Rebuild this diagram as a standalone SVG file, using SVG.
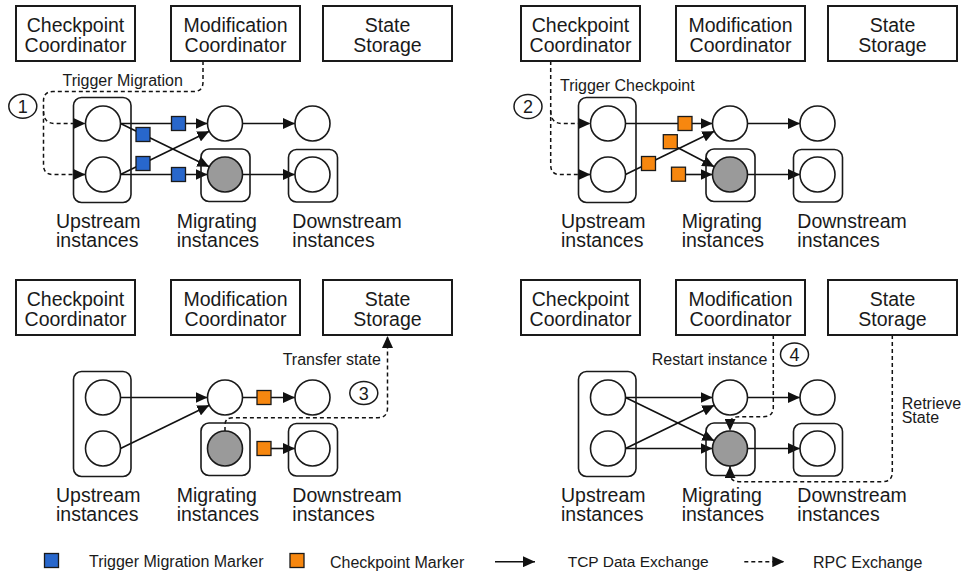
<svg xmlns="http://www.w3.org/2000/svg" width="961" height="573" viewBox="0 0 961 573">
<style>
.box{fill:#fff;stroke:#1a1a1a;stroke-width:2}
.grp{fill:none;stroke:#1a1a1a;stroke-width:1.6}
.node{fill:#fff;stroke:#1a1a1a;stroke-width:1.6}
.gray{fill:#9a9a9a;stroke:#1a1a1a;stroke-width:1.6}
.edge{fill:none;stroke:#111;stroke-width:1.6;marker-end:url(#arr)}
.rpc{fill:none;stroke:#111;stroke-width:1.5;stroke-dasharray:4 3;marker-end:url(#arr)}
.bm{fill:#2867cc;stroke:#1a1a1a;stroke-width:1.3}
.om{fill:#f7870f;stroke:#1a1a1a;stroke-width:1.3}
.num{fill:#fff;stroke:#1a1a1a;stroke-width:1.5}
text{font-family:"Liberation Sans",Arial,sans-serif;fill:#1a1a1a}
.t{font-size:19.5px;text-anchor:middle}
.lab{font-size:19.5px}
.s{font-size:16px}
.n{font-size:18px;text-anchor:middle}
</style>
<defs>
<marker id="arr" markerUnits="userSpaceOnUse" markerWidth="12" markerHeight="11" refX="12" refY="5.5" orient="auto"><path d="M0,0 L12,5.5 L0,11 z" fill="#111"/></marker>
</defs>

<!-- Panel 1 -->
<g id="panel1">
<g id="p1-connectors">
<path class="rpc" d="M203,61 V82 Q203,91.5 193.5,91.5 H53 Q43.5,91.5 43.5,101 V165 Q43.5,174.5 53,174.5 H85.5"/>
<path class="rpc" d="M43.5,111 Q43.5,123.5 55,123.5 H85.5"/>
<line class="edge" x1="120.5" y1="123.5" x2="207.5" y2="123.5"/>
<line class="edge" x1="120.5" y1="174.5" x2="207.5" y2="174.5"/>
<line class="edge" x1="120.5" y1="123.5" x2="209.3" y2="166.8"/>
<line class="edge" x1="120.5" y1="174.5" x2="209.3" y2="131.2"/>
<line class="edge" x1="242.5" y1="123.5" x2="295" y2="123.5"/>
<line class="edge" x1="242.5" y1="174.5" x2="295" y2="174.5"/>
<rect class="bm" x="171.5" y="116.5" width="14" height="14"/>
<rect class="bm" x="136" y="127.5" width="14" height="14"/>
<rect class="bm" x="136" y="156.5" width="14" height="14"/>
<rect class="bm" x="171.5" y="167.5" width="14" height="14"/>
<text class="s" x="62.5" y="85.5">Trigger Migration</text>
<ellipse class="num" cx="22.8" cy="106.3" rx="14" ry="12"/><text class="n" x="22.8" y="112.8">1</text>
</g>
<g id="p1-checkpoint-coordinator"><rect class="box" x="16" y="6" width="119" height="55"/><text class="t"><tspan x="75.5" y="32">Checkpoint</tspan><tspan x="75.5" y="51.5">Coordinator</tspan></text></g>
<g id="p1-modification-coordinator"><rect class="box" x="171" y="6" width="129" height="55"/><text class="t"><tspan x="235.5" y="32">Modification</tspan><tspan x="235.5" y="51.5">Coordinator</tspan></text></g>
<g id="p1-state-storage"><rect class="box" x="323" y="6" width="129" height="55"/><text class="t"><tspan x="387.5" y="32">State</tspan><tspan x="387.5" y="51.5">Storage</tspan></text></g>
<g id="p1-upstream"><rect class="grp" x="73.5" y="97.5" width="57.5" height="105" rx="8"/><circle class="node" cx="103" cy="123.5" r="17.5"/><circle class="node" cx="103" cy="174.5" r="17.5"/><text class="lab"><tspan x="56" y="228">Upstream</tspan><tspan x="56" y="246.5">instances</tspan></text></g>
<g id="p1-migrating"><rect class="grp" x="201" y="149" width="49" height="52.5" rx="8"/><circle class="node" cx="225" cy="123.5" r="17.5"/><circle class="gray" cx="225" cy="174.5" r="17.5"/><text class="lab"><tspan x="176.7" y="228">Migrating</tspan><tspan x="176.7" y="246.5">instances</tspan></text></g>
<g id="p1-downstream"><rect class="grp" x="288.5" y="149.5" width="49" height="52.5" rx="8"/><circle class="node" cx="312.5" cy="123.5" r="17.5"/><circle class="node" cx="312.5" cy="174.5" r="17.5"/><text class="lab"><tspan x="292.3" y="228">Downstream</tspan><tspan x="292.3" y="246.5">instances</tspan></text></g>
</g>

<!-- Panel 2 -->
<g id="panel2" transform="translate(505,0)">
<g id="p2-connectors">
<path class="rpc" d="M45.7,61 V165 Q45.7,174.5 55,174.5 H85.5"/>
<path class="rpc" d="M45.7,111 Q45.7,123.5 57,123.5 H85.5"/>
<line class="edge" x1="120.5" y1="123.5" x2="207.5" y2="123.5"/>
<line class="edge" x1="120.5" y1="174.5" x2="209.3" y2="131.2"/>
<line class="edge" x1="170.5" y1="146.5" x2="209.3" y2="166.8"/>
<line class="edge" x1="178" y1="174.5" x2="207.5" y2="174.5"/>
<line class="edge" x1="242.5" y1="123.5" x2="295" y2="123.5"/>
<line class="edge" x1="242.5" y1="174.5" x2="295" y2="174.5"/>
<rect class="om" x="173" y="116.5" width="14" height="14"/>
<rect class="om" x="158.3" y="134.7" width="14" height="14"/>
<rect class="om" x="136.5" y="156.5" width="14" height="14"/>
<rect class="om" x="166.5" y="167.2" width="14" height="14"/>
<text class="s" x="55" y="90.5">Trigger Checkpoint</text>
<ellipse class="num" cx="23" cy="106.5" rx="14" ry="12"/><text class="n" x="23" y="113">2</text>
</g>
<g id="p2-checkpoint-coordinator"><rect class="box" x="16" y="6" width="119" height="55"/><text class="t"><tspan x="75.5" y="32">Checkpoint</tspan><tspan x="75.5" y="51.5">Coordinator</tspan></text></g>
<g id="p2-modification-coordinator"><rect class="box" x="171" y="6" width="129" height="55"/><text class="t"><tspan x="235.5" y="32">Modification</tspan><tspan x="235.5" y="51.5">Coordinator</tspan></text></g>
<g id="p2-state-storage"><rect class="box" x="323" y="6" width="129" height="55"/><text class="t"><tspan x="387.5" y="32">State</tspan><tspan x="387.5" y="51.5">Storage</tspan></text></g>
<g id="p2-upstream"><rect class="grp" x="73.5" y="97.5" width="57.5" height="105" rx="8"/><circle class="node" cx="103" cy="123.5" r="17.5"/><circle class="node" cx="103" cy="174.5" r="17.5"/><text class="lab"><tspan x="56" y="228">Upstream</tspan><tspan x="56" y="246.5">instances</tspan></text></g>
<g id="p2-migrating"><rect class="grp" x="201" y="149" width="49" height="52.5" rx="8"/><circle class="node" cx="225" cy="123.5" r="17.5"/><circle class="gray" cx="225" cy="174.5" r="17.5"/><text class="lab"><tspan x="176.7" y="228">Migrating</tspan><tspan x="176.7" y="246.5">instances</tspan></text></g>
<g id="p2-downstream"><rect class="grp" x="288.5" y="149.5" width="49" height="52.5" rx="8"/><circle class="node" cx="312.5" cy="123.5" r="17.5"/><circle class="node" cx="312.5" cy="174.5" r="17.5"/><text class="lab"><tspan x="292.3" y="228">Downstream</tspan><tspan x="292.3" y="246.5">instances</tspan></text></g>
</g>

<!-- Panel 3 -->
<g id="panel3" transform="translate(0,274)">
<g id="p3-connectors">
<path class="rpc" d="M225,157 V151 Q225,143.7 233,143.7 H378 Q387.5,143.7 387.5,134 V62"/>
<line class="edge" x1="120.5" y1="123.5" x2="207.5" y2="123.5"/>
<line class="edge" x1="120.5" y1="174.5" x2="209.3" y2="131.2"/>
<line class="edge" x1="242.5" y1="123.5" x2="295" y2="123.5"/>
<line class="edge" x1="270" y1="174.5" x2="295" y2="174.5"/>
<rect class="om" x="257" y="116.5" width="14" height="14"/>
<rect class="om" x="257" y="167.5" width="14" height="14"/>
<text class="s" x="282.7" y="91">Transfer state</text>
<ellipse class="num" cx="363.8" cy="119" rx="14" ry="11.5"/><text class="n" x="363.8" y="125.5">3</text>
</g>
<g id="p3-checkpoint-coordinator"><rect class="box" x="16" y="6" width="119" height="55"/><text class="t"><tspan x="75.5" y="32">Checkpoint</tspan><tspan x="75.5" y="51.5">Coordinator</tspan></text></g>
<g id="p3-modification-coordinator"><rect class="box" x="171" y="6" width="129" height="55"/><text class="t"><tspan x="235.5" y="32">Modification</tspan><tspan x="235.5" y="51.5">Coordinator</tspan></text></g>
<g id="p3-state-storage"><rect class="box" x="323" y="6" width="129" height="55"/><text class="t"><tspan x="387.5" y="32">State</tspan><tspan x="387.5" y="51.5">Storage</tspan></text></g>
<g id="p3-upstream"><rect class="grp" x="73.5" y="97.5" width="57.5" height="105" rx="8"/><circle class="node" cx="103" cy="123.5" r="17.5"/><circle class="node" cx="103" cy="174.5" r="17.5"/><text class="lab"><tspan x="56" y="228">Upstream</tspan><tspan x="56" y="246.5">instances</tspan></text></g>
<g id="p3-migrating"><rect class="grp" x="201" y="149" width="49" height="52.5" rx="8"/><circle class="node" cx="225" cy="123.5" r="17.5"/><circle class="gray" cx="225" cy="174.5" r="17.5"/><text class="lab"><tspan x="176.7" y="228">Migrating</tspan><tspan x="176.7" y="246.5">instances</tspan></text></g>
<g id="p3-downstream"><rect class="grp" x="288.5" y="149.5" width="49" height="52.5" rx="8"/><circle class="node" cx="312.5" cy="123.5" r="17.5"/><circle class="node" cx="312.5" cy="174.5" r="17.5"/><text class="lab"><tspan x="292.3" y="228">Downstream</tspan><tspan x="292.3" y="246.5">instances</tspan></text></g>
</g>

<!-- Panel 4 -->
<g id="panel4" transform="translate(505,274)">
<g id="p4-connectors">
<path class="rpc" d="M268.3,61 V133 Q268.3,142.7 258.5,142.7 H234 Q225,142.7 225,150 V157"/>
<path class="rpc" d="M387.3,61 V198 Q387.3,207.7 377.5,207.7 H234 Q225,207.7 225,199 V192"/>
<line class="edge" x1="120.5" y1="123.5" x2="207.5" y2="123.5"/>
<line class="edge" x1="120.5" y1="174.5" x2="207.5" y2="174.5"/>
<line class="edge" x1="120.5" y1="123.5" x2="209.3" y2="166.8"/>
<line class="edge" x1="120.5" y1="174.5" x2="209.3" y2="131.2"/>
<line class="edge" x1="242.5" y1="123.5" x2="295" y2="123.5"/>
<line class="edge" x1="242.5" y1="174.5" x2="295" y2="174.5"/>
<text class="s" x="146.7" y="91">Restart instance</text>
<ellipse class="num" cx="289.5" cy="80.5" rx="14" ry="11.5"/><text class="n" x="289.5" y="87">4</text>
<text class="s"><tspan x="396.7" y="134.5">Retrieve</tspan><tspan x="396.7" y="149">State</tspan></text>
</g>
<g id="p4-checkpoint-coordinator"><rect class="box" x="16" y="6" width="119" height="55"/><text class="t"><tspan x="75.5" y="32">Checkpoint</tspan><tspan x="75.5" y="51.5">Coordinator</tspan></text></g>
<g id="p4-modification-coordinator"><rect class="box" x="171" y="6" width="129" height="55"/><text class="t"><tspan x="235.5" y="32">Modification</tspan><tspan x="235.5" y="51.5">Coordinator</tspan></text></g>
<g id="p4-state-storage"><rect class="box" x="323" y="6" width="129" height="55"/><text class="t"><tspan x="387.5" y="32">State</tspan><tspan x="387.5" y="51.5">Storage</tspan></text></g>
<g id="p4-upstream"><rect class="grp" x="73.5" y="97.5" width="57.5" height="105" rx="8"/><circle class="node" cx="103" cy="123.5" r="17.5"/><circle class="node" cx="103" cy="174.5" r="17.5"/><text class="lab"><tspan x="56" y="228">Upstream</tspan><tspan x="56" y="246.5">instances</tspan></text></g>
<g id="p4-migrating"><rect class="grp" x="201" y="149" width="49" height="52.5" rx="8"/><circle class="node" cx="225" cy="123.5" r="17.5"/><circle class="gray" cx="225" cy="174.5" r="17.5"/><text class="lab"><tspan x="176.7" y="228">Migrating</tspan><tspan x="176.7" y="246.5">instances</tspan></text></g>
<g id="p4-downstream"><rect class="grp" x="288.5" y="149.5" width="49" height="52.5" rx="8"/><circle class="node" cx="312.5" cy="123.5" r="17.5"/><circle class="node" cx="312.5" cy="174.5" r="17.5"/><text class="lab"><tspan x="292.3" y="228">Downstream</tspan><tspan x="292.3" y="246.5">instances</tspan></text></g>
</g>

<!-- Legend -->
<g id="legend">
<rect class="bm" x="44.5" y="553.5" width="14" height="14"/>
<text class="s" x="89" y="567">Trigger Migration Marker</text>
<rect class="om" x="290" y="553.5" width="14" height="14"/>
<text class="s" x="330" y="568">Checkpoint Marker</text>
<line class="edge" x1="495" y1="561.7" x2="535" y2="561.7"/>
<text class="s" x="567.7" y="567" style="font-size:15.5px">TCP Data Exchange</text>
<line class="rpc" x1="744.3" y1="561.7" x2="784.3" y2="561.7"/>
<text class="s" x="813" y="568">RPC Exchange</text>
</g>
</svg>
